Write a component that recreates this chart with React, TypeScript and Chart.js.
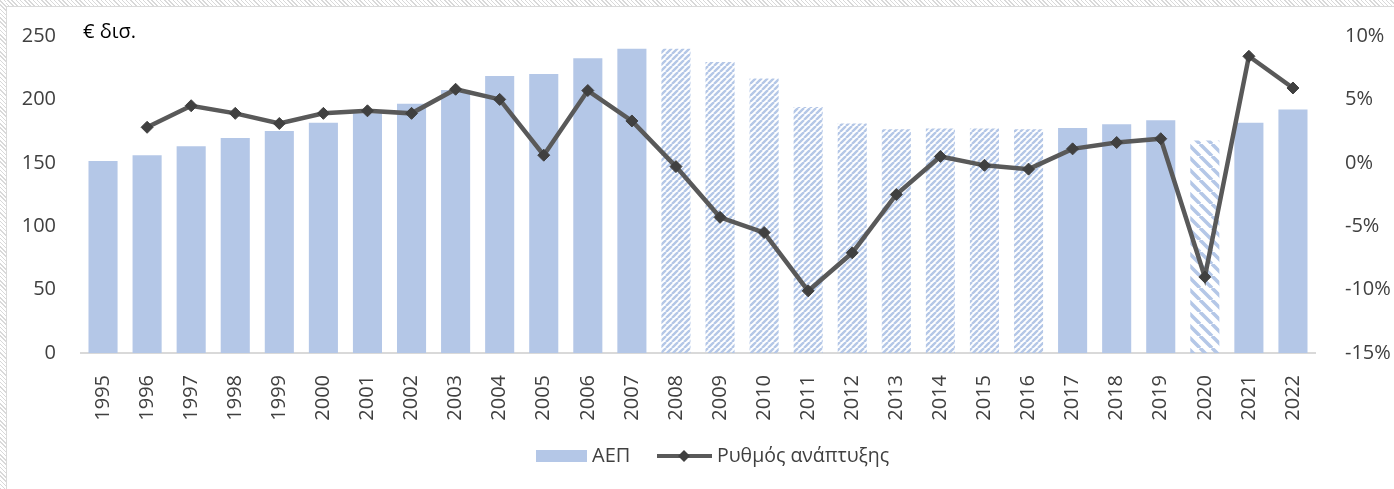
import React, { useEffect, useRef } from "react";
import { Chart, registerables } from "chart.js";

Chart.register(...registerables);

const years = ["1995","1996","1997","1998","1999","2000","2001","2002","2003","2004","2005","2006","2007","2008","2009","2010","2011","2012","2013","2014","2015","2016","2017","2018","2019","2020","2021","2022"];
const gdp = [151.5,156,163,169.5,175,181.5,189,196.5,207.5,218.5,220,232.5,240,240,229.5,216.5,194,181,176.5,177,177,176.5,177.5,180.5,183.5,167.5,181.5,192];
const growth = [null,2.8,4.5,3.9,3.1,3.9,4.1,3.9,5.8,5.0,0.6,5.7,3.3,-0.3,-4.3,-5.5,-10.1,-7.1,-2.5,0.5,-0.2,-0.5,1.1,1.6,1.9,-9.0,8.4,5.9];
// bar fill style: 0 solid, 1 forward hatch, 2 backward hatch
const barStyle = [0,0,0,0,0,0,0,0,0,0,0,0,0,1,1,1,1,1,1,1,1,1,0,0,0,2,0,0];
const leftTicks = [0,50,100,150,200,250];
const rightTicks = [-15,-10,-5,0,5,10];
const gdpLabel = "ΑΕΠ";
const growthLabel = "Ρυθμός ανάπτυξης";
const unitLabel = "€ δισ.";

const BAR = "#B4C7E7";
const LINE = "#595959";
const MARK = "#404040";
const FONT = "'Open Sans', 'Noto Sans', sans-serif";

function makePattern(kind: number): CanvasPattern | string {
  const c = document.createElement("canvas");
  const s = kind === 1 ? 6 : 12;
  c.width = s; c.height = s;
  const g = c.getContext("2d")!;
  g.strokeStyle = BAR;
  g.lineWidth = kind === 1 ? 2.4 : 3.6;
  g.beginPath();
  if (kind === 1) {
    for (let k = -1; k <= 1; k++) {
      g.moveTo(k * s, s); g.lineTo(k * s + s, 0);
    }
  } else {
    for (let k = -1; k <= 1; k++) {
      g.moveTo(k * s, 0); g.lineTo(k * s + s, s);
    }
  }
  g.stroke();
  const p = g.createPattern(c, "repeat");
  return p || BAR;
}

export default function App() {
  const ref = useRef<HTMLCanvasElement>(null);
  useEffect(() => {
    document.body.style.margin = "0";
    const fwd = makePattern(1);
    const bwd = makePattern(2);
    const colors = barStyle.map((s) => (s === 0 ? BAR : s === 1 ? fwd : bwd));

    const extras = {
      id: "extras",
      afterDraw(chart: any) {
        const ctx = chart.ctx;
        ctx.save();
        ctx.font = `20px ${FONT}`;
        ctx.textBaseline = "middle";
        ctx.textAlign = "left";
        ctx.fillStyle = "#000";
        ctx.fillText(unitLabel, 83, 32);
        // legend
        const ly = 456;
        ctx.fillStyle = BAR;
        ctx.fillRect(536, 450, 51, 12);
        ctx.fillStyle = "#404040";
        ctx.fillText(gdpLabel, 592, ly);
        ctx.strokeStyle = LINE;
        ctx.lineWidth = 4;
        ctx.beginPath();
        ctx.moveTo(657, ly); ctx.lineTo(712, ly);
        ctx.stroke();
        ctx.fillStyle = MARK;
        ctx.beginPath();
        ctx.moveTo(684, ly - 6); ctx.lineTo(690, ly); ctx.lineTo(684, ly + 6); ctx.lineTo(678, ly);
        ctx.closePath(); ctx.fill();
        ctx.fillStyle = "#404040";
        ctx.font = `19.5px ${FONT}`;
        ctx.fillText(growthLabel, 717, ly);
        ctx.restore();
      },
    };

    const chart = new Chart(ref.current!, {
      type: "bar",
      data: {
        labels: years,
        datasets: [
          {
            type: "line",
            label: growthLabel,
            data: growth as any,
            yAxisID: "y1",
            borderColor: LINE,
            borderWidth: 4.5,
            pointStyle: "rectRot",
            pointRadius: 6,
            pointBackgroundColor: MARK,
            pointBorderColor: MARK,
            pointBorderWidth: 1,
            tension: 0,
            order: 0,
            spanGaps: false,
          } as any,
          {
            type: "bar",
            label: gdpLabel,
            data: gdp,
            yAxisID: "y",
            backgroundColor: colors as any,
            borderWidth: 0,
            barPercentage: 0.66,
            categoryPercentage: 1,
            order: 1,
          },
        ],
      },
      options: {
        animation: false,
        responsive: false,
        maintainAspectRatio: false,
        layout: { padding: { top: 36, bottom: 0, left: 0, right: 0 } },
        plugins: { legend: { display: false }, tooltip: { enabled: false } },
        scales: {
          x: {
            grid: { display: false },
            border: { display: true, color: "#D9D9D9", width: 2 },
            ticks: {
              color: "#404040",
              font: { family: FONT, size: 20 },
              minRotation: 90,
              maxRotation: 90,
              padding: 14,
              autoSkip: false,
            },
            afterFit(s: any) { s.height = 136; },
          },
          y: {
            position: "left",
            min: 0,
            max: 250,
            grid: { display: false },
            border: { display: false },
            afterBuildTicks(s: any) { s.ticks = leftTicks.map((v) => ({ value: v })); },
            ticks: {
              color: "#404040",
              font: { family: FONT, size: 20 },
              padding: 17,
            },
            afterFit(s: any) { s.width = 81; },
          },
          y1: {
            position: "right",
            min: -15,
            max: 10,
            grid: { display: false },
            border: { display: false },
            afterBuildTicks(s: any) { s.ticks = rightTicks.map((v) => ({ value: v })); },
            ticks: {
              color: "#404040",
              font: { family: FONT, size: 20 },
              padding: 22,
              callback: (v: any) => `${v}%`,
            },
            afterFit(s: any) { s.width = 79; },
          },
        },
      },
      plugins: [extras],
    });
    return () => chart.destroy();
  }, []);

  const hatch = "repeating-linear-gradient(45deg, #d9d9d9 0 1px, #ffffff 1px 3px)";
  return (
    <div style={{ position: "relative", width: 1394, height: 489, background: "#fff", overflow: "hidden" }}>
      <div style={{ position: "absolute", left: 0, top: 0, width: 1394, height: 6, background: hatch }} />
      <div style={{ position: "absolute", left: 0, top: 0, width: 6, height: 489, background: hatch }} />
      <div style={{ position: "absolute", left: 6, top: 6, width: 1388, height: 1, background: "#D9D9D9" }} />
      <div style={{ position: "absolute", left: 6, top: 6, width: 1, height: 483, background: "#D9D9D9" }} />
      <canvas ref={ref} width={1394} height={489} style={{ position: "absolute", left: 0, top: 0 }} />
    </div>
  );
}
